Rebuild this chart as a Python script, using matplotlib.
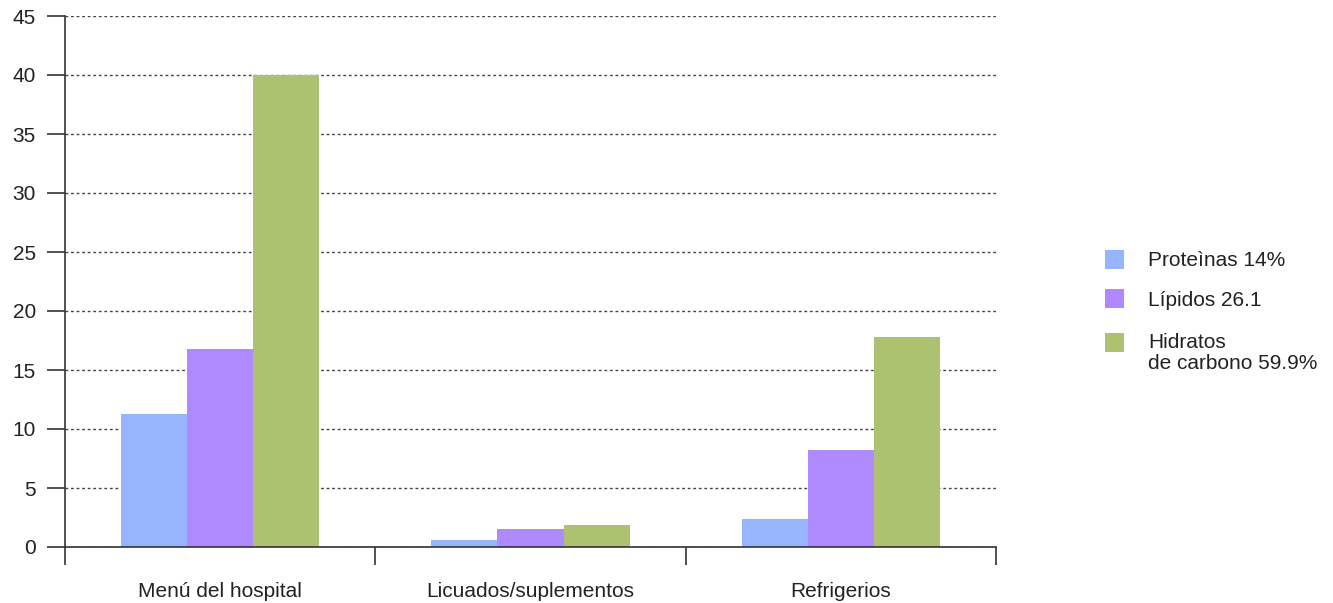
import matplotlib

matplotlib.use("Agg")
matplotlib.rcParams["font.family"] = ["Liberation Sans", "DejaVu Sans"]

import matplotlib.pyplot as plt
import numpy as np
from matplotlib.patches import Rectangle

categories = ["Menú del hospital", "Licuados/suplementos", "Refrigerios"]
series_names = ["Proteìnas 14%", "Lípidos 26.1", "Hidratos\nde carbono 59.9%"]
proteinas = [11.3, 0.6, 2.4]
lipidos = [16.8, 1.5, 8.2]
hidratos = [40.0, 1.85, 17.8]
y_ticks = [0, 5, 10, 15, 20, 25, 30, 35, 40, 45]

colors = ["#97B5FC", "#AF89FE", "#ADC271"]
ink = "#333333"
txt = "#222222"
fs = 15

W, H = 1333, 603
fig = plt.figure(figsize=(W / 100, H / 100), dpi=100)
ax = fig.add_axes([65 / W, 1 - 547 / H, (996 - 65) / W, (547 - 16) / H])

x = np.arange(len(categories))
w = 0.213
for i, (vals, col) in enumerate(zip([proteinas, lipidos, hidratos], colors)):
    ax.bar(x + (i - 1) * w, vals, width=w, color=col, edgecolor="none", zorder=2)

ax.set_xlim(-0.5, len(categories) - 0.5)
ax.set_ylim(0, 45)
ax.set_yticks(y_ticks)
ax.set_xticks(x)
ax.set_xticklabels(categories)
ax.set_xticks(np.arange(len(categories) + 1) - 0.5, minor=True)

ax.yaxis.grid(True, linestyle=(0, (2, 2)), color="#444444", linewidth=1.0, zorder=1)
ax.set_axisbelow(True)

for side in ["top", "right"]:
    ax.spines[side].set_visible(False)
for side in ["left", "bottom"]:
    ax.spines[side].set_color(ink)
    ax.spines[side].set_linewidth(1.2)

ax.tick_params(axis="y", length=13, width=1.2, color=ink, labelsize=fs, labelcolor=txt, pad=8)
ax.tick_params(axis="x", which="major", length=0, labelsize=fs, labelcolor=txt, pad=25)
ax.tick_params(axis="x", which="minor", length=13, width=1.2, color=ink)

# legend drawn by hand so the square lines up with the first text line
row_y = [259, 299, 342]
for name, col, yc in zip(series_names, colors, row_y):
    fig.patches.append(Rectangle((1105 / W, 1 - (yc + 9.5) / H), 19 / W, 19 / H,
                                 transform=fig.transFigure, facecolor=col,
                                 edgecolor="none"))
    fig.text(1148 / W, 1 - (yc - 8.5) / H, name, ha="left", va="top", fontsize=fs,
             color=txt, linespacing=1.1)

fig.savefig("out.png", dpi=100)
